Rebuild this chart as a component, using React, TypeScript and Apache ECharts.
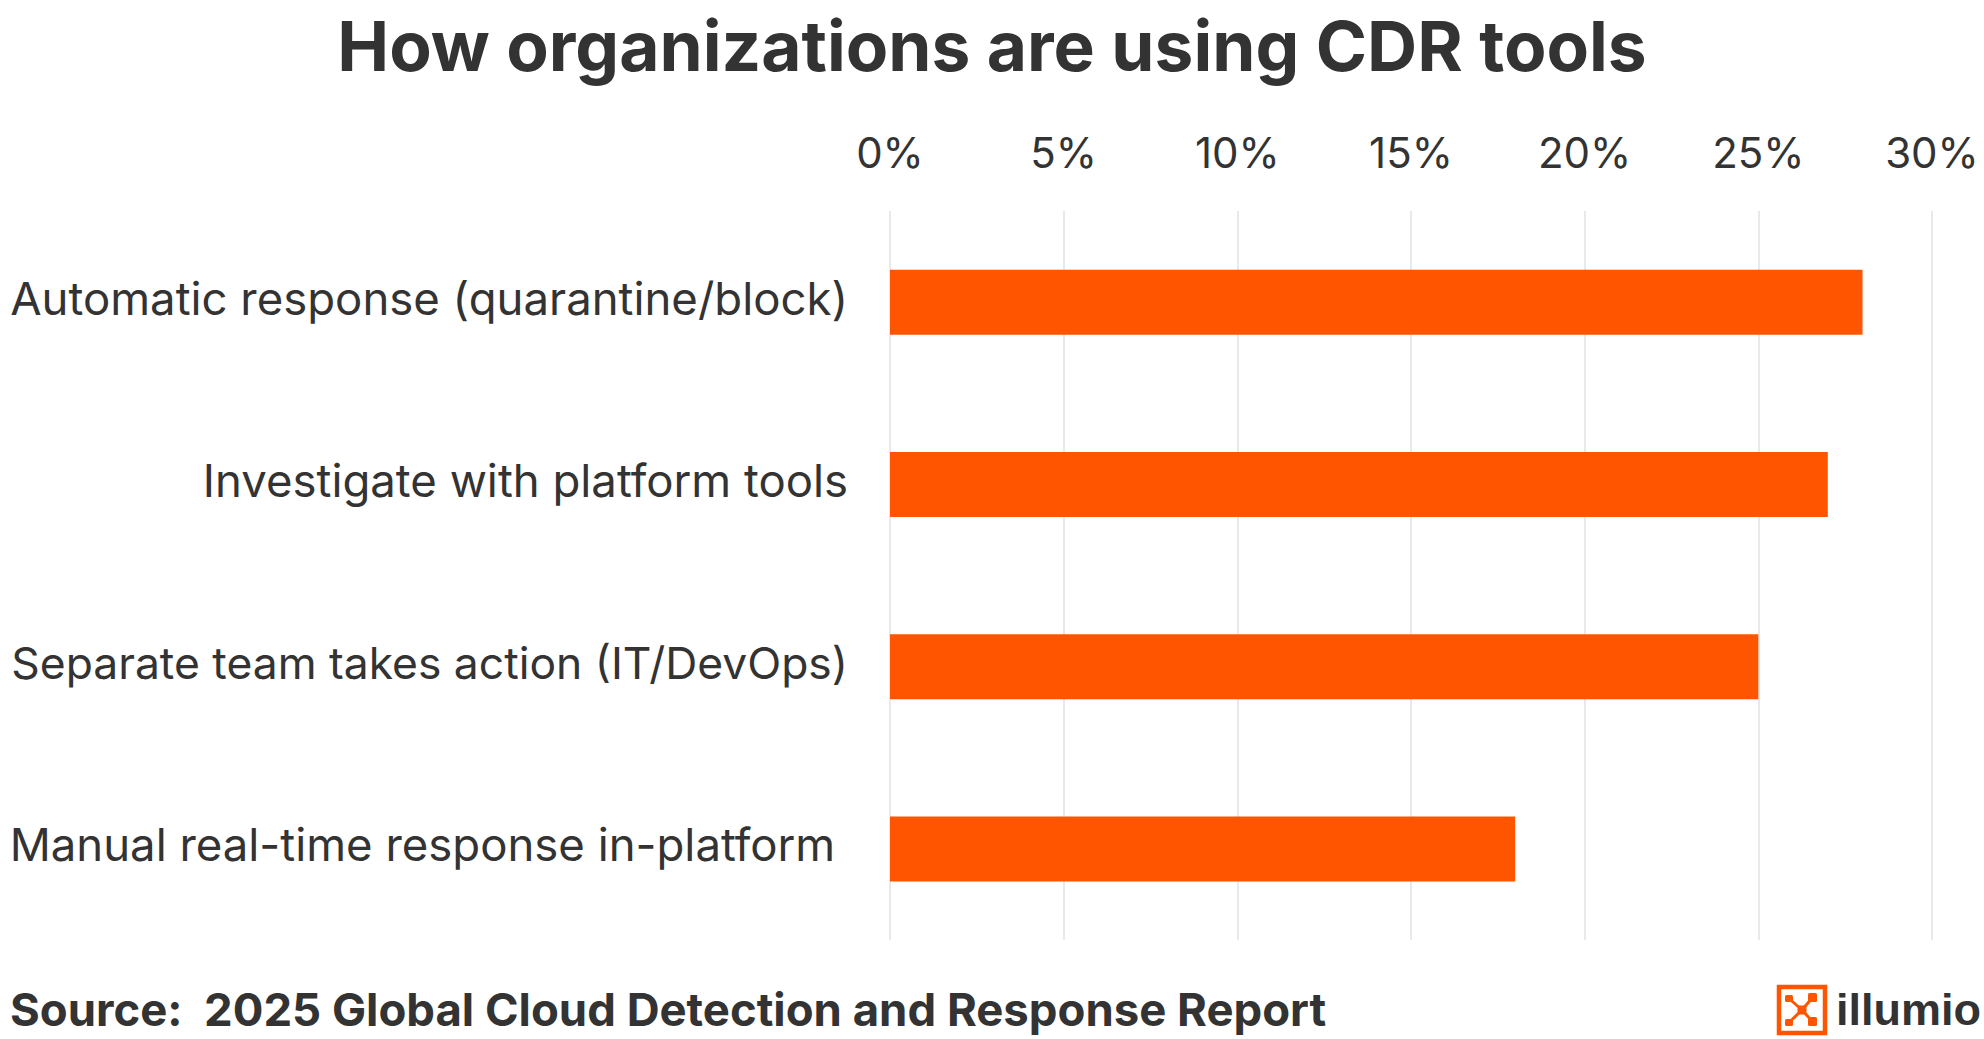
import React, { useEffect, useRef } from "react";
import * as echarts from "echarts";

const categories = [
  "Automatic response (quarantine/block)",
  "Investigate with platform tools",
  "Separate team takes action (IT/DevOps)",
  "Manual real-time response in-platform ",
];
const values = [28, 27, 25, 18];
const tickMin = 0;
const tickMax = 30;
const tickStep = 5;

const titleText = "How organizations are using CDR tools";
const sourceText = "Source:  2025 Global Cloud Detection and Response Report";
const logoText = "illumio";

const FONT = "Inter, 'Noto Sans', sans-serif";
const TEXT = "#333333";
const ORANGE = "#FF5500";

export default function App() {
  const ref = useRef<HTMLDivElement>(null);
  useEffect(() => {
    document.body.style.margin = "0";
    const chart = echarts.init(ref.current!, null, { renderer: "svg" });
    const cx = 1802;
    const cy = 1010;
    const nodes = [
      { x: 1785, y: 995, w: 8, h: 7 },
      { x: 1808, y: 993, w: 9, h: 9 },
      { x: 1785, y: 1019, w: 8, h: 7 },
      { x: 1808, y: 1017, w: 9, h: 9 },
    ];
    const logo: any[] = [
      {
        type: "rect",
        shape: { x: 1779, y: 987, width: 46, height: 46 },
        style: { stroke: ORANGE, lineWidth: 4.5, fill: "none" },
      },
      ...nodes.map((n) => ({
        type: "line",
        shape: { x1: cx, y1: cy, x2: n.x + n.w / 2, y2: n.y + n.h / 2 },
        style: { stroke: ORANGE, lineWidth: 3 },
      })),
      ...nodes.map((n) => ({
        type: "rect",
        shape: { x: n.x, y: n.y, width: n.w, height: n.h, r: 1.5 },
        style: { fill: ORANGE },
      })),
      {
        type: "rect",
        shape: { x: cx - 4.5, y: cy - 4.5, width: 9, height: 9, r: 1.5 },
        style: { fill: ORANGE },
      },
      {
        type: "text",
        x: 1836,
        y: 1009,
        style: {
          text: logoText,
          font: "bold 45px 'Liberation Sans', Arial, sans-serif",
          fill: TEXT,
          verticalAlign: "middle",
        },
      },
    ];
    chart.setOption({
      animation: false,
      backgroundColor: "#ffffff",
      grid: {
        left: 890,
        right: 52,
        top: 211,
        bottom: 99,
        containLabel: false,
        outerBoundsMode: "none",
      },
      xAxis: {
        type: "value",
        position: "top",
        min: tickMin,
        max: tickMax,
        interval: tickStep,
        axisLine: { show: false },
        axisTick: { show: false },
        axisLabel: {
          formatter: "{value}%",
          fontFamily: FONT,
          fontSize: 42,
          color: TEXT,
          margin: 38,
        },
        splitLine: { show: true, lineStyle: { color: "#e2e2e2", width: 1.5 } },
      },
      yAxis: {
        type: "category",
        data: categories,
        inverse: true,
        axisLine: { show: false },
        axisTick: { show: false },
        axisLabel: {
          fontFamily: FONT,
          fontSize: 45.5,
          color: TEXT,
          margin: 42,
          padding: [0, 0, 8, 0],
          formatter: (v: string) => (v.startsWith("Separate") ? `{s|${v}}` : v),
          rich: {
            s: { fontFamily: FONT, fontSize: 44.4, color: TEXT },
          },
        },
        splitLine: { show: false },
      },
      series: [
        {
          type: "bar",
          data: values,
          barWidth: 65,
          itemStyle: { color: ORANGE },
        },
      ],
      graphic: [
        {
          type: "text",
          x: 992,
          y: 45.5,
          style: {
            text: titleText,
            font: `bold 69.4px ${FONT}`,
            fill: TEXT,
            align: "center",
            verticalAlign: "middle",
          },
        },
        {
          type: "text",
          x: 10,
          y: 1009,
          style: {
            text: sourceText,
            font: `bold 45.5px ${FONT}`,
            fill: TEXT,
            align: "left",
            verticalAlign: "middle",
          },
        },
        ...logo,
      ],
    });
    return () => chart.dispose();
  }, []);
  return <div ref={ref} style={{ width: 1984, height: 1039 }} />;
}
